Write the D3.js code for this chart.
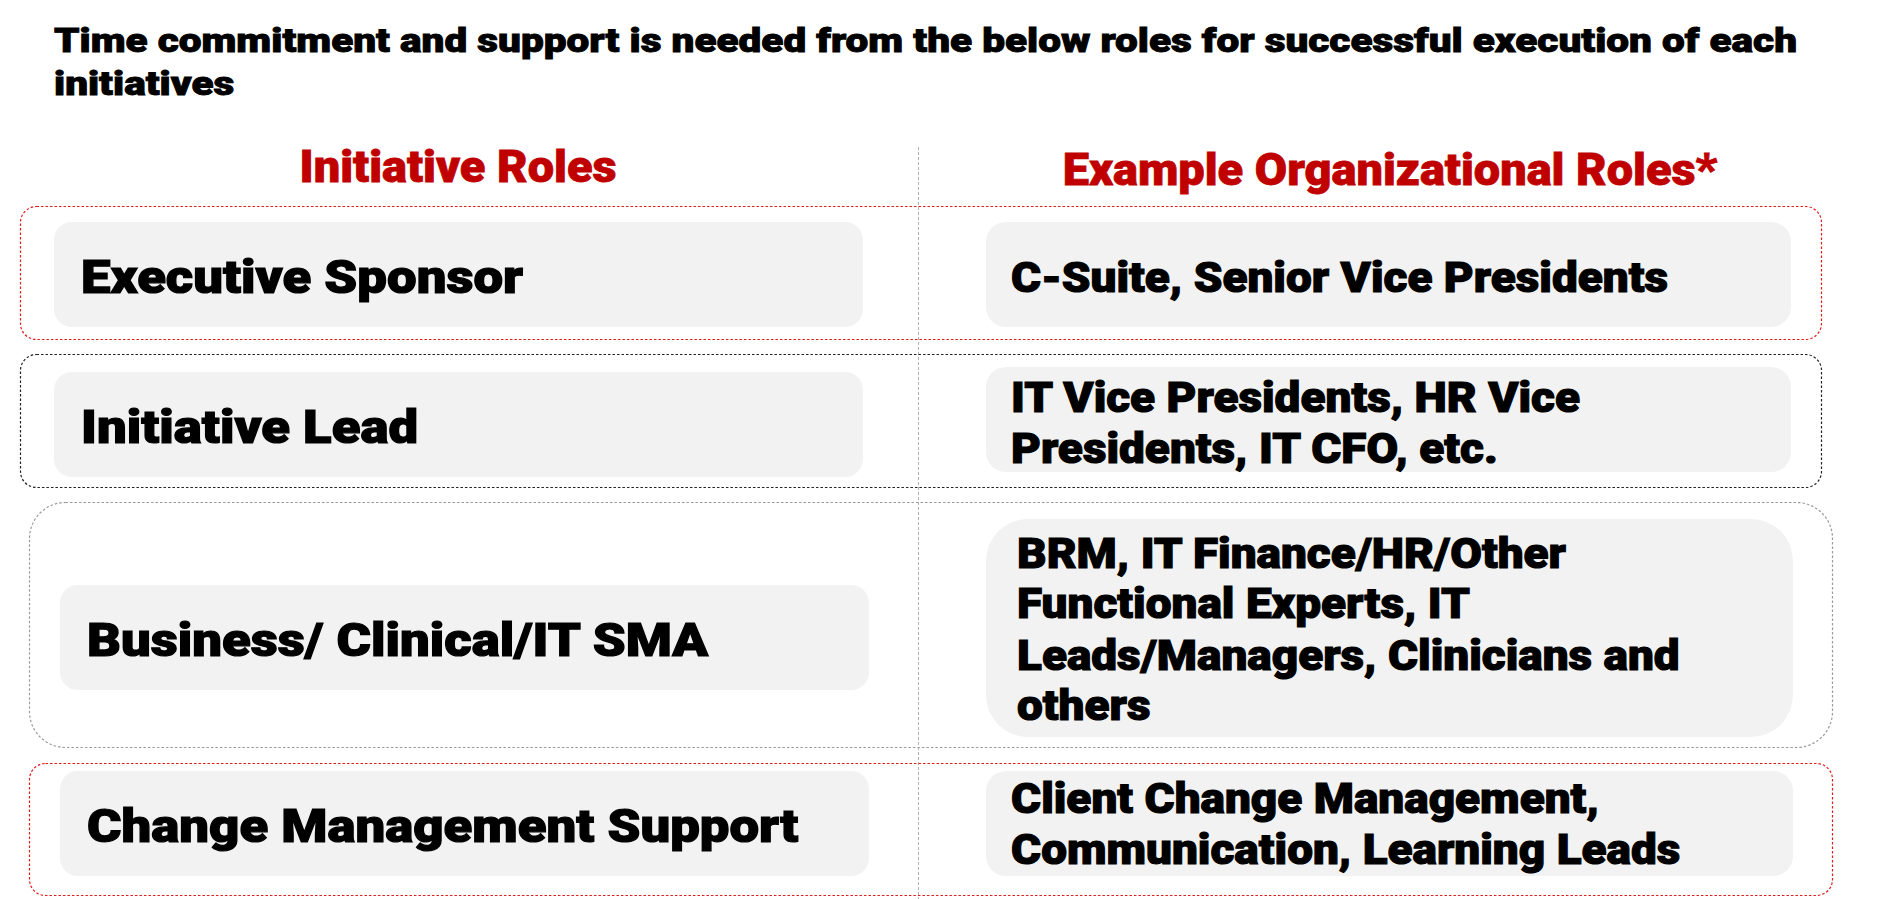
<!DOCTYPE html>
<html>
<head>
<meta charset="utf-8">
<script src="https://cdn.jsdelivr.net/npm/d3@7"></script>
<style>
  html, body { margin: 0; padding: 0; background: #fff; }
  svg { display: block; }
</style>
</head>
<body>
<div id="chart"></div>
<script>
// Text content
const titleLines = [
    "Time commitment and support is needed from the below roles for successful execution of each",
    "initiatives"
];
const columnHeaders = ["Initiative Roles", "Example Organizational Roles*"];
const initiativeRoles = ["Executive Sponsor", "Initiative Lead", "Business/ Clinical/IT SMA", "Change Management Support"];
const orgRoles = [
    ["C-Suite, Senior Vice Presidents"],
    ["IT Vice Presidents, HR Vice", "Presidents, IT CFO, etc."],
    ["BRM, IT Finance/HR/Other", "Functional Experts, IT", "Leads/Managers, Clinicians and", "others"],
    ["Client Change Management,", "Communication, Learning Leads"]
];

// Layout of each row (pixels)
const rowLayout = [
    { outer: [20, 206, 1801, 133, 16], stroke: "#e31b1b", left: [54, 222, 809, 105], right: [986, 222, 805, 105, 20], lx: 81, lb: 293, rx: 1011, rb: [292] },
    { outer: [20, 354, 1801, 133, 16], stroke: "#222222", left: [54, 372, 809, 105], right: [986, 367, 805, 105, 20], lx: 81, lb: 443, rx: 1011, rb: [412, 463] },
    { outer: [29, 502, 1803, 245, 36], stroke: "#9a9a9a", left: [60, 585, 809, 105], right: [986, 519, 807, 218, 42], lx: 87, lb: 656, rx: 1017, rb: [568, 618, 670, 720] },
    { outer: [29, 763, 1803, 132, 16], stroke: "#e31b1b", left: [60, 771, 809, 105], right: [986, 771, 807, 105, 20], lx: 87, lb: 842, rx: 1011, rb: [813, 864] }
];

const W = 1883, H = 899;
const FONT = "Roboto, 'Liberation Sans', Arial, sans-serif";

const svg = d3.select("#chart").append("svg")
    .attr("width", W)
    .attr("height", H);

// measure a string and return the horizontal factor to hit a target width
function widthFactor(str, size, target) {
    const t = svg.append("text")
        .style("font-family", FONT)
        .style("font-weight", 900)
        .style("font-size", size + "px")
        .text(str);
    const w = t.node().getComputedTextLength();
    t.remove();
    return target / w;
}

function fit(sel, k) {
    sel.each(function() {
        const w = this.getComputedTextLength();
        d3.select(this)
            .attr("textLength", w * k)
            .attr("lengthAdjust", "spacingAndGlyphs");
    });
}

const kTitle = widthFactor(titleLines[0], 34, 1743);
const kHead = widthFactor(columnHeaders[0], 44, 317);
const kLeft = widthFactor(initiativeRoles[0], 47, 442);
const kRight = widthFactor(orgRoles[0][0], 42, 657);

// title
const title = svg.append("g").selectAll("text")
    .data(titleLines)
    .enter().append("text")
    .attr("x", 54)
    .attr("y", (d, i) => 52 + i * 43)
    .style("font-family", FONT)
    .style("font-weight", 900)
    .style("font-size", "34px")
    .style("fill", "#000")
    .style("stroke", "#000")
    .style("stroke-width", 0.9)
    .text(d => d);
fit(title, kTitle);

// column divider
svg.append("line")
    .attr("x1", 918.5).attr("x2", 918.5)
    .attr("y1", 147).attr("y2", H)
    .attr("stroke", "#b0b0b0")
    .attr("stroke-width", 1)
    .attr("stroke-dasharray", "3,2");

// column headers
const headX = [458, 1390], headY = [182, 185];
const heads = svg.append("g").selectAll("text")
    .data(columnHeaders)
    .enter().append("text")
    .attr("x", (d, i) => headX[i])
    .attr("y", (d, i) => headY[i])
    .attr("text-anchor", "middle")
    .style("font-family", FONT)
    .style("font-weight", 900)
    .style("font-size", "44px")
    .style("fill", "#c00000")
    .style("stroke", "#c00000")
    .style("stroke-width", 0.8)
    .text(d => d);
fit(heads, kHead);

// rows
const rows = svg.append("g").selectAll("g.row")
    .data(initiativeRoles.map((name, i) => ({ name, lines: orgRoles[i], lay: rowLayout[i] })))
    .enter().append("g")
    .attr("class", "row");

rows.append("rect")
    .attr("x", d => d.lay.outer[0] + 0.5)
    .attr("y", d => d.lay.outer[1] + 0.5)
    .attr("width", d => d.lay.outer[2])
    .attr("height", d => d.lay.outer[3])
    .attr("rx", d => d.lay.outer[4])
    .attr("fill", "none")
    .attr("stroke", d => d.lay.stroke)
    .attr("stroke-width", 1.2)
    .attr("stroke-dasharray", "2.5,2");

rows.append("rect")
    .attr("x", d => d.lay.left[0])
    .attr("y", d => d.lay.left[1])
    .attr("width", d => d.lay.left[2])
    .attr("height", d => d.lay.left[3])
    .attr("rx", 18)
    .attr("fill", "#f2f2f2");

rows.append("rect")
    .attr("x", d => d.lay.right[0])
    .attr("y", d => d.lay.right[1])
    .attr("width", d => d.lay.right[2])
    .attr("height", d => d.lay.right[3])
    .attr("rx", d => d.lay.right[4])
    .attr("fill", "#f2f2f2");

const leftText = rows.append("text")
    .attr("x", d => d.lay.lx)
    .attr("y", d => d.lay.lb)
    .style("font-family", FONT)
    .style("font-weight", 900)
    .style("font-size", "47px")
    .style("fill", "#000")
    .style("stroke", "#000")
    .style("stroke-width", 1.2)
    .text(d => d.name);
fit(leftText, kLeft);

const rightText = rows.selectAll("text.org")
    .data(d => d.lines.map((t, j) => ({ t, x: d.lay.rx, y: d.lay.rb[j] })))
    .enter().append("text")
    .attr("class", "org")
    .attr("x", d => d.x)
    .attr("y", d => d.y)
    .style("font-family", FONT)
    .style("font-weight", 900)
    .style("font-size", "42px")
    .style("fill", "#000")
    .style("stroke", "#000")
    .style("stroke-width", 1.1)
    .text(d => d.t);
fit(rightText, kRight);
</script>
</body>
</html>
